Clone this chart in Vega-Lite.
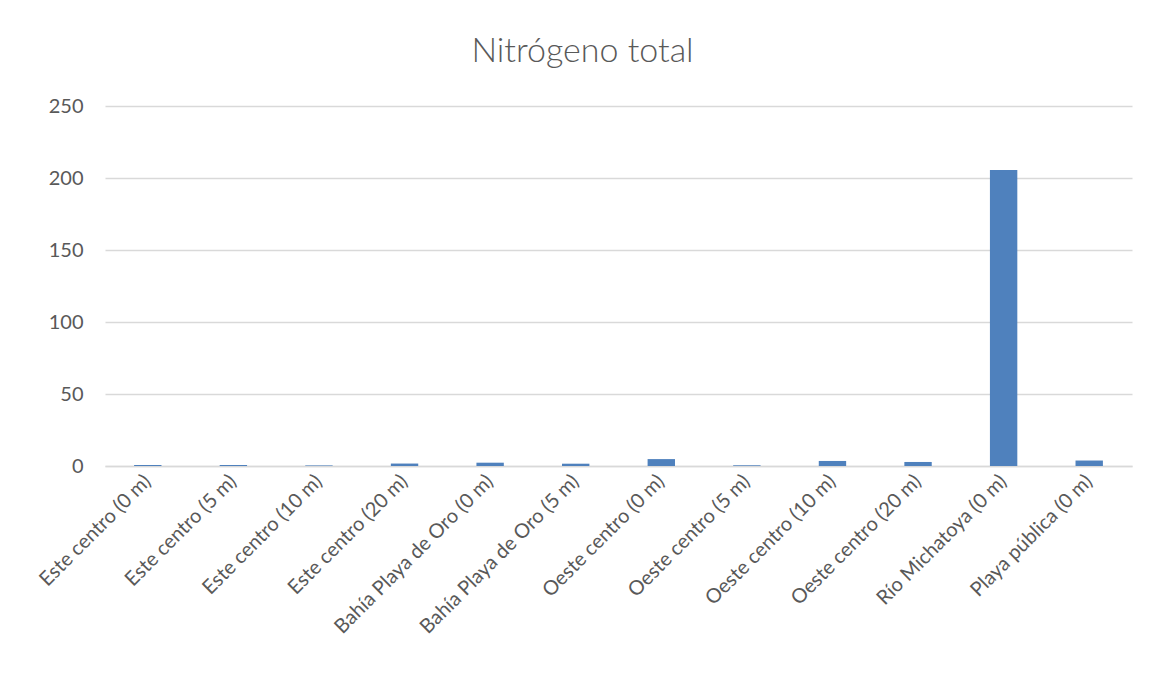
{
  "$schema": "https://vega.github.io/schema/vega-lite/v6.json",
  "width": 1027,
  "height": 360,
  "autosize": {"type": "none"},
  "padding": {"left": 105, "top": 106, "right": 22, "bottom": 222},
  "background": "white",
  "title": {
    "text": "Nitrógeno total",
    "font": "Lato",
    "fontSize": 34,
    "fontWeight": 300,
    "color": "#595959",
    "offset": 27,
    "dx": -36
  },
  "data": {
    "values": [
      {"sitio": "Este centro (0 m)", "valor": 0.7},
      {"sitio": "Este centro (5 m)", "valor": 0.7},
      {"sitio": "Este centro (10 m)", "valor": 0.4},
      {"sitio": "Este centro (20 m)", "valor": 1.7},
      {"sitio": "Bahía Playa de Oro (0 m)", "valor": 2.3},
      {"sitio": "Bahía Playa de Oro (5 m)", "valor": 1.6},
      {"sitio": "Oeste centro (0 m)", "valor": 4.8},
      {"sitio": "Oeste centro (5 m)", "valor": 0.5},
      {"sitio": "Oeste centro (10 m)", "valor": 3.5},
      {"sitio": "Oeste centro (20 m)", "valor": 2.8},
      {"sitio": "Río Michatoya (0 m)", "valor": 205.5},
      {"sitio": "Playa pública (0 m)", "valor": 3.8}
    ]
  },
  "mark": {"type": "bar", "color": "#4f81bd"},
  "encoding": {
    "x": {
      "field": "sitio",
      "type": "nominal",
      "sort": null,
      "title": null,
      "scale": {"paddingInner": 0.68, "paddingOuter": 0.34},
      "axis": {
        "labelAngle": -45,
        "labelAlign": "right",
        "labelBaseline": "middle",
        "labelFont": "Lato",
        "labelFontSize": 20,
        "labelColor": "#595959",
        "labelPadding": 12,
        "labelLimit": 400,
        "ticks": false,
        "domainColor": "#d9d9d9",
        "domainWidth": 1.5,
        "grid": false
      }
    },
    "y": {
      "field": "valor",
      "type": "quantitative",
      "title": null,
      "scale": {"domain": [0, 250]},
      "axis": {
        "values": [0, 50, 100, 150, 200, 250],
        "labelFont": "Lato",
        "labelFontSize": 20,
        "labelColor": "#595959",
        "labelPadding": 22,
        "ticks": false,
        "domain": false,
        "gridColor": "#d9d9d9",
        "gridWidth": 1.3
      }
    }
  },
  "config": {"view": {"stroke": null}}
}
